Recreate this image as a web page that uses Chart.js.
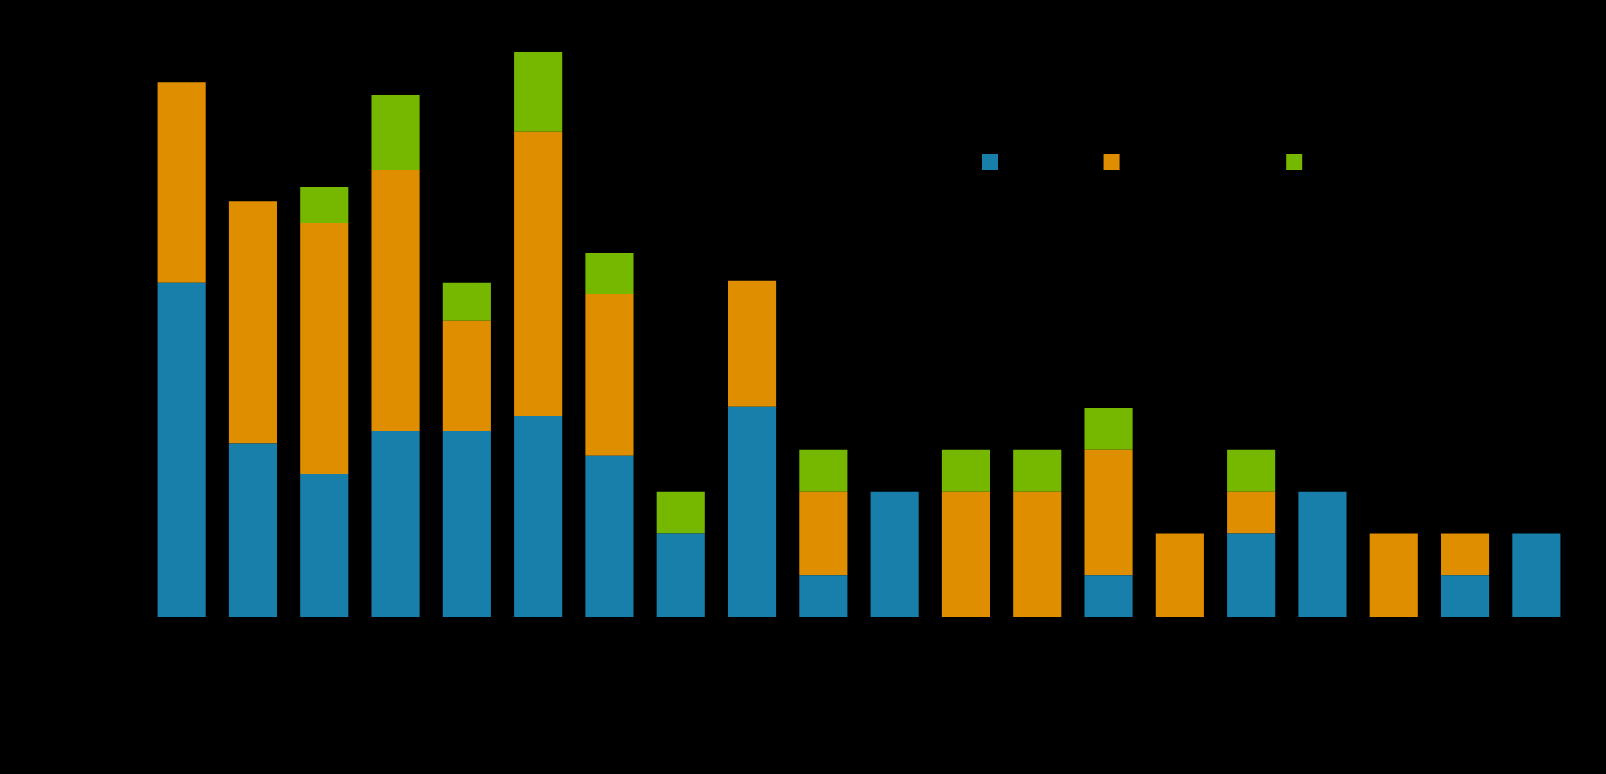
<!DOCTYPE html>
<html>
<head>
<meta charset="utf-8">
<script src="https://cdn.jsdelivr.net/npm/chart.js@4.4.1/dist/chart.umd.min.js"></script>
<style>
  html, body { margin: 0; padding: 0; background: #000; }
  #wrap { width: 1606px; height: 774px; }
</style>
</head>
<body>
<div id="wrap"><canvas id="stackChart"></canvas></div>
<script>
const categories = [
  "Item 1", "Item 2", "Item 3", "Item 4", "Item 5",
  "Item 6", "Item 7", "Item 8", "Item 9", "Item 10",
  "Item 11", "Item 12", "Item 13", "Item 14", "Item 15",
  "Item 16", "Item 17", "Item 18", "Item 19", "Item 20"
];

const seriesNames = ["Group one", "Secondary groups", "Other group (misc)"];

const blueValues = [8.0, 4.15, 3.42, 4.45, 4.45, 4.81, 3.86, 2, 5.03, 1, 3, 0, 0, 1, 0, 2, 3, 0, 1, 2];
const orangeValues = [4.8, 5.8, 6.01, 6.25, 2.64, 6.8, 3.87, 0, 3.02, 2, 0, 3, 3, 3, 2, 1, 0, 2, 1, 0];
const greenValues = [0, 0, 0.86, 1.79, 0.91, 1.91, 0.98, 1, 0, 1, 0, 1, 1, 1, 0, 1, 0, 0, 0, 0];

const yTicks = [0, 2, 4, 6, 8, 10, 12, 14];

const colors = ["#177fa9", "#df8e00", "#76b700"];

Chart.defaults.color = "#000";
Chart.defaults.font.family = "DejaVu Sans";
Chart.defaults.font.size = 14;

// legend drawn inside the plot, upper right
const innerLegend = {
  id: "innerLegend",
  afterDraw(chart) {
    const ctx = chart.ctx;
    const area = chart.chartArea;
    let x = area.left + 836;
    const y = area.top + 122;
    const box = 16;
    ctx.save();
    ctx.font = "16px DejaVu Sans";
    ctx.textBaseline = "middle";
    chart.data.datasets.forEach(ds => {
      ctx.fillStyle = ds.backgroundColor;
      ctx.fillRect(x, y, box, box);
      ctx.fillStyle = "#000";
      ctx.fillText(ds.label, x + box + 8, y + box / 2);
      x += box + 8 + ctx.measureText(ds.label).width + 14;
    });
    ctx.restore();
  }
};

const ctx = document.getElementById("stackChart").getContext("2d");

const stackChart = new Chart(ctx, {
  type: "bar",
  data: {
    labels: categories,
    datasets: [
      { label: seriesNames[0], data: blueValues, backgroundColor: colors[0] },
      { label: seriesNames[1], data: orangeValues, backgroundColor: colors[1] },
      { label: seriesNames[2], data: greenValues, backgroundColor: colors[2] }
    ]
  },
  options: {
    responsive: true,
    maintainAspectRatio: false,
    animation: false,
    datasets: {
      bar: {
        barPercentage: 0.675,
        categoryPercentage: 1,
        borderWidth: 0
      }
    },
    layout: {
      padding: { top: 32, right: 34, left: 0, bottom: 0 }
    },
    plugins: {
      legend: { display: false },
      tooltip: { enabled: false }
    },
    scales: {
      x: {
        stacked: true,
        grid: { display: false },
        border: { display: false },
        ticks: { maxRotation: 45, minRotation: 45 },
        title: { display: true, text: "Category" },
        afterFit: function(scale) {
          scale.height = 157;
        }
      },
      y: {
        stacked: true,
        min: 0,
        max: 14,
        afterBuildTicks: function(scale) {
          scale.ticks = yTicks.map(v => ({ value: v }));
        },
        grid: { display: false },
        border: { display: false },
        title: { display: true, text: "Value" },
        afterFit: function(scale) {
          scale.width = 146;
        }
      }
    }
  },
  plugins: [innerLegend]
});
</script>
</body>
</html>
